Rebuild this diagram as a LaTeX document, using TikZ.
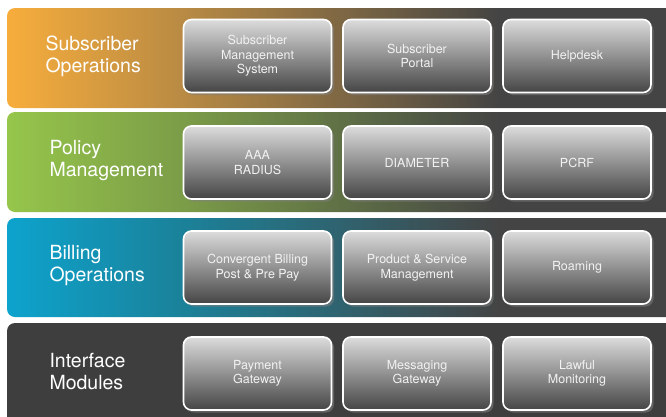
\documentclass[tikz,border=0pt]{standalone}
\usepackage{fontspec}
\setmainfont{TeX Gyre Heros}
\usetikzlibrary{shadows}

\definecolor{bandgray}{HTML}{444444}
\definecolor{ifgray}{HTML}{3E3E3E}
\definecolor{subA}{HTML}{F7AD3C}
\definecolor{subB}{HTML}{B88A44}
\definecolor{polA}{HTML}{96C64B}
\definecolor{polB}{HTML}{7B9C48}
\definecolor{bilA}{HTML}{0DA3CD}
\definecolor{bilB}{HTML}{1B8199}
\definecolor{boxtop}{HTML}{DCDCDC}
\definecolor{boxbot}{HTML}{454545}
\definecolor{boxtext}{HTML}{F2F2F2}

% the path spans 25bp--75bp of each shading
\pgfdeclarehorizontalshading{subshade}{100bp}{color(0bp)=(subA); color(25bp)=(subA); color(38bp)=(subB); color(61bp)=(bandgray); color(100bp)=(bandgray)}
\pgfdeclarehorizontalshading{polshade}{100bp}{color(0bp)=(polA); color(25bp)=(polA); color(38bp)=(polB); color(61bp)=(bandgray); color(100bp)=(bandgray)}
\pgfdeclarehorizontalshading{bilshade}{100bp}{color(0bp)=(bilA); color(25bp)=(bilA); color(38bp)=(bilB); color(61bp)=(bandgray); color(100bp)=(bandgray)}

\tikzset{
  band/.style={rounded corners=8pt},
  title/.style={anchor=west, align=left, text=white,
    font=\fontsize{19.5}{22}\selectfont},
  module/.style={draw=white, line width=1.6pt, rounded corners=8pt,
    top color=boxtop, bottom color=boxbot,
    minimum width=148pt, minimum height=73pt, inner sep=0pt,
    align=center, text=boxtext, font=\fontsize{12.5}{14.5}\selectfont,
    drop shadow={shadow xshift=2.5pt, shadow yshift=-2.5pt, opacity=0.55}},
}

\begin{document}
\begin{tikzpicture}[x=1pt, y=-1pt]
\useasboundingbox[fill=white] (0,0) rectangle (666,416);

% bands
\shade[band, shading=subshade] (7,8) rectangle (690,108);
\shade[band, shading=polshade] (7,112) rectangle (690,212);
\shade[band, shading=bilshade] (7,218) rectangle (690,317);
\fill[band, ifgray] (7,323) rectangle (690,440);

% band titles
\node[title] (subops) at (42,56) {Subscriber\\Operations};
\node[title] (polmgmt) at (46,161) {Policy\\Management};
\node[title] (bilops) at (46,266) {Billing\\Operations};
\node[title] (ifmod) at (46,371) {Interface\\Modules};

% subscriber operations
\node[module] (sms) at (257.5,56) {Subscriber\\Management\\System};
\node[module] (portal) at (417,56) {Subscriber\\Portal};
\node[module] (helpdesk) at (577,56) {Helpdesk};

% policy management
\node[module] (aaa) at (257.5,162.5) {AAA\\RADIUS};
\node[module] (diameter) at (417,162.5) {DIAMETER};
\node[module] (pcrf) at (577,162.5) {PCRF};

% billing operations
\node[module] (billing) at (257.5,267.5) {Convergent Billing\\Post \& Pre Pay};
\node[module] (product) at (417,267.5) {Product \& Service\\Management};
\node[module] (roaming) at (577,267.5) {Roaming};

% interface modules
\node[module] (payment) at (257.5,373.5) {Payment\\Gateway};
\node[module] (messaging) at (417,373.5) {Messaging\\Gateway};
\node[module] (lawful) at (577,373.5) {Lawful\\Monitoring};
\end{tikzpicture}
\end{document}
